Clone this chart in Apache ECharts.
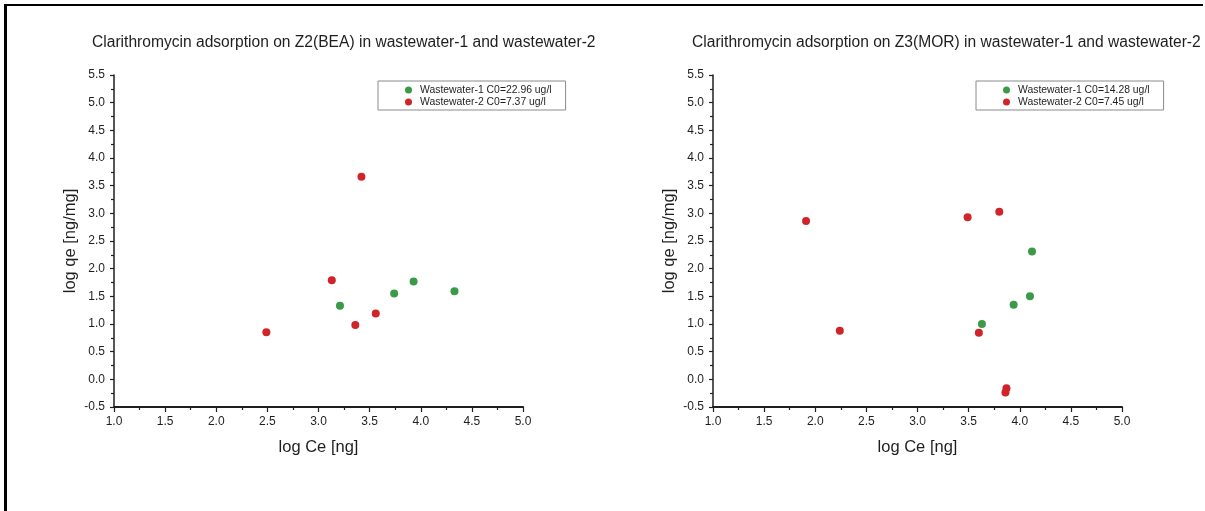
<!DOCTYPE html>
<html>
<head>
<meta charset="utf-8">
<script src="https://cdn.jsdelivr.net/npm/echarts@6/dist/echarts.min.js"></script>
<style>
  html, body { margin: 0; padding: 0; background: #fff; }
  #chart { position: absolute; left: 0; top: 0; width: 1205px; height: 511px; }
  #frame {
    position: absolute; left: 4px; top: 4px; width: 1199px; height: 507px;
    border-left: 3px solid #000; border-top: 2px solid #000;
    box-sizing: border-box; pointer-events: none;
  }
</style>
</head>
<body>
<div id="chart"></div>
<div id="frame"></div>
<script>
// Clarithromycin adsorption isotherms: log Ce [ng] vs log qe [ng/mg]
const titleZ2 = 'Clarithromycin adsorption on Z2(BEA) in wastewater-1 and wastewater-2';
const titleZ3 = 'Clarithromycin adsorption on Z3(MOR) in wastewater-1 and wastewater-2';

const nameZ2ww1 = 'Wastewater-1 C0=22.96 ug/l';
const nameZ2ww2 = 'Wastewater-2 C0=7.37 ug/l';
const nameZ3ww1 = 'Wastewater-1 C0=14.28 ug/l';
const nameZ3ww2 = 'Wastewater-2 C0=7.45 ug/l';

// Z2(BEA)
const z2ww1LogCe = [3.21, 3.74, 3.93, 4.33];
const z2ww1LogQe = [1.33, 1.55, 1.77, 1.59];
const z2ww2LogCe = [2.49, 3.13, 3.42, 3.36, 3.56];
const z2ww2LogQe = [0.85, 1.79, 3.66, 0.98, 1.19];

// Z3(MOR)
const z3ww1LogCe = [3.63, 3.94, 4.10, 4.12];
const z3ww1LogQe = [1.00, 1.35, 1.50, 2.31];
const z3ww2LogCe = [1.91, 2.24, 3.49, 3.80, 3.60, 3.87, 3.86];
const z3ww2LogQe = [2.86, 0.88, 2.93, 3.03, 0.84, -0.16, -0.24];

const xAxisName = 'log Ce [ng]';
const yAxisName = 'log qe [ng/mg]';

const GREEN = '#3a9a48';
const RED = '#d0242b';
const INK = '#1e1e1e';
const FONT = '"Liberation Sans", Arial, sans-serif';

const pairs = (xs, ys) => xs.map((x, i) => [x, ys[i]]);

function xAxisFor(gridIndex) {
  return {
    gridIndex, type: 'value', min: 1, max: 5, interval: 0.5,
    name: xAxisName, nameLocation: 'middle', nameGap: 32,
    nameTextStyle: { fontSize: 16.5, color: INK, fontFamily: FONT },
    axisLine: { show: true, onZero: false, lineStyle: { color: INK, width: 2 } },
    axisTick: { show: true, inside: false, length: 5, lineStyle: { color: INK, width: 1.2 } },
    minorTick: { show: true, splitNumber: 2, length: 3, lineStyle: { color: INK, width: 1.2 } },
    axisLabel: { margin: 9, fontSize: 12, color: INK, fontFamily: FONT,
                 formatter: v => v.toFixed(1) },
    splitLine: { show: false }
  };
}

function yAxisFor(gridIndex) {
  return {
    gridIndex, type: 'value', min: -0.5, max: 5.5, interval: 0.5,
    name: yAxisName, nameLocation: 'middle', nameGap: 35,
    nameTextStyle: { fontSize: 16.5, color: INK, fontFamily: FONT },
    axisLine: { show: true, onZero: false, lineStyle: { color: INK, width: 1.5 } },
    axisTick: { show: true, inside: false, length: 4, lineStyle: { color: INK, width: 1.2 } },
    minorTick: { show: true, splitNumber: 2, length: 3, lineStyle: { color: INK, width: 1.2 } },
    axisLabel: { margin: 9, fontSize: 12, color: INK, fontFamily: FONT,
                 formatter: v => v.toFixed(1) },
    splitLine: { show: false }
  };
}

function legendFor(left, names) {
  return {
    left, top: 81, orient: 'vertical', data: names,
    icon: 'circle', itemWidth: 13, itemHeight: 7, itemGap: 2,
    padding: [4, 14, 3, 27],
    borderColor: '#8a8a8a', borderWidth: 1, backgroundColor: '#fff',
    textStyle: { fontSize: 10.4, color: INK, fontFamily: FONT },
    selectedMode: false
  };
}

function scatter(name, xi, data, color) {
  return {
    type: 'scatter', name, xAxisIndex: xi, yAxisIndex: xi, data,
    symbol: 'circle', symbolSize: 8,
    itemStyle: { color, opacity: 1 },
    emphasis: { disabled: true }
  };
}

const chart = echarts.init(document.getElementById('chart'), null, { renderer: 'canvas' });
chart.setOption({
  animation: false,
  backgroundColor: '#fff',
  title: [
    { text: titleZ2, left: 92, top: 35, padding: 0,
      textStyle: { fontSize: 15.6, fontWeight: 'normal', color: INK, fontFamily: FONT } },
    { text: titleZ3, left: 692, top: 35, padding: 0,
      textStyle: { fontSize: 15.6, fontWeight: 'normal', color: INK, fontFamily: FONT } }
  ],
  legend: [
    legendFor(378, [nameZ2ww1, nameZ2ww2]),
    legendFor(976, [nameZ3ww1, nameZ3ww2])
  ],
  grid: [
    { left: 114, top: 75, width: 409, height: 332 },
    { left: 713, top: 75, width: 409, height: 332 }
  ],
  xAxis: [xAxisFor(0), xAxisFor(1)],
  yAxis: [yAxisFor(0), yAxisFor(1)],
  series: [
    scatter(nameZ2ww1, 0, pairs(z2ww1LogCe, z2ww1LogQe), GREEN),
    scatter(nameZ2ww2, 0, pairs(z2ww2LogCe, z2ww2LogQe), RED),
    scatter(nameZ3ww1, 1, pairs(z3ww1LogCe, z3ww1LogQe), GREEN),
    scatter(nameZ3ww2, 1, pairs(z3ww2LogCe, z3ww2LogQe), RED)
  ]
});
</script>
</body>
</html>
